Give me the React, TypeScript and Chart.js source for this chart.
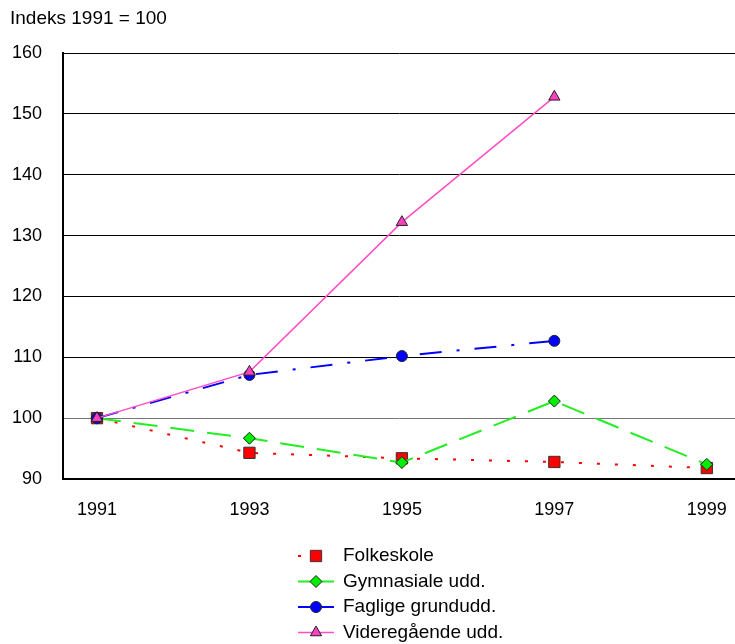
import React, { useEffect, useRef } from "react";
import { Chart, registerables } from "chart.js";
import { drawPoint } from "chart.js/helpers";

Chart.register(...registerables);

const years = [1991, 1993, 1995, 1997, 1999];
const seriesNames = ["Folkeskole", "Gymnasiale udd.", "Faglige grundudd.", "Videregående udd."];
const folkeskole = [100, 94.3, 93.4, 92.8, 91.8];
const gymnasiale = [100, 96.7, 92.7, 102.8, 92.4];
const faglige = [100, 107.1, 110.2, 112.7, null];
const videregaende = [100, 107.6, 132.2, 152.8, null];
const yTicks = [90, 100, 110, 120, 130, 140, 150, 160];
const titleText = "Indeks 1991 = 100";

const FONT = "'Liberation Sans', Arial, sans-serif";

const toPoints = (vals: (number | null)[]) => years.map((x, i) => ({ x, y: vals[i] }));

const titlePlugin = {
  id: "customTitle",
  afterDraw(chart: any) {
    const ctx = chart.ctx;
    ctx.save();
    ctx.fillStyle = "#000";
    ctx.font = `19px ${FONT}`;
    ctx.textAlign = "left";
    ctx.textBaseline = "middle";
    ctx.fillText(titleText, 10, 19);
    ctx.restore();
  },
};

const legendPlugin = {
  id: "customLegend",
  afterDraw(chart: any) {
    const ctx = chart.ctx;
    const ds = chart.data.datasets;
    ctx.save();
    ds.forEach((d: any, i: number) => {
      const y = 556 + i * 25.5;
      ctx.save();
      ctx.strokeStyle = d.borderColor;
      ctx.lineWidth = d.borderWidth;
      ctx.setLineDash(d.legendDash || d.borderDash || []);
      ctx.beginPath();
      ctx.moveTo(298, y);
      ctx.lineTo(334, y);
      ctx.stroke();
      ctx.restore();
      ctx.save();
      ctx.fillStyle = d.pointBackgroundColor;
      ctx.strokeStyle = d.pointBorderColor;
      ctx.lineWidth = d.pointBorderWidth;
      drawPoint(ctx, { pointStyle: d.pointStyle, radius: d.pointRadius, rotation: 0, borderWidth: d.pointBorderWidth }, 316, y);
      ctx.restore();
      ctx.fillStyle = "#000";
      ctx.font = `19px ${FONT}`;
      ctx.textAlign = "left";
      ctx.textBaseline = "middle";
      ctx.fillText(d.label, 343, y);
    });
    ctx.restore();
  },
};

export default function App() {
  const ref = useRef<HTMLCanvasElement>(null);
  useEffect(() => {
    if (!ref.current) return;
    const chart = new Chart(ref.current, {
      type: "line",
      data: {
        datasets: [
          {
            label: seriesNames[0],
            data: toPoints(folkeskole),
            borderColor: "#ff0000",
            borderWidth: 2,
            borderDash: [3, 15],
            pointStyle: "rect",
            pointRadius: 8,
            pointBackgroundColor: "#ff0000",
            pointBorderColor: "#333333",
            pointBorderWidth: 1,
            order: 3,
          },
          {
            label: seriesNames[1],
            data: toPoints(gymnasiale),
            borderColor: "#22ee22",
            borderWidth: 2,
            borderDash: [24, 13],
            legendDash: [],
            pointStyle: "rectRot",
            pointRadius: 6,
            pointBackgroundColor: "#00ee00",
            pointBorderColor: "#222222",
            pointBorderWidth: 1,
            order: 2,
          },
          {
            label: seriesNames[2],
            data: toPoints(faglige),
            borderColor: "#0000ff",
            borderWidth: 2,
            borderDash: [22, 15, 3, 15],
            legendDash: [],
            pointStyle: "circle",
            pointRadius: 5.5,
            pointBackgroundColor: "#0000ff",
            pointBorderColor: "#222222",
            pointBorderWidth: 1,
            order: 1,
          },
          {
            label: seriesNames[3],
            data: toPoints(videregaende),
            borderColor: "#ff4dc4",
            borderWidth: 1.5,
            borderDash: [],
            pointStyle: "triangle",
            pointRadius: 6.5,
            pointBackgroundColor: "#ff40c0",
            pointBorderColor: "#222222",
            pointBorderWidth: 1,
            order: 0,
          },
        ] as any,
      },
      options: {
        animation: false,
        responsive: false,
        maintainAspectRatio: false,
        layout: { padding: { left: 12, right: 0, top: 53, bottom: 123 } },
        plugins: { legend: { display: false }, tooltip: { enabled: false }, title: { display: false } },
        scales: {
          x: {
            type: "linear",
            min: 1990.554,
            max: 1999.37,
            afterBuildTicks: (axis: any) => {
              axis.ticks = years.map((v) => ({ value: v }));
            },
            afterFit: (s: any) => {
              s.height = 42;
              s.paddingLeft = 0;
              s.paddingRight = 0;
            },
            grid: { display: true, drawOnChartArea: false, drawTicks: false, color: "rgba(0,0,0,0)" },
            border: { display: true, color: "#000", width: 2 },
            ticks: {
              padding: 20,
              color: "#000",
              font: { family: FONT, size: 18 },
              callback: (v: any) => String(v),
              maxRotation: 0,
            },
          },
          y: {
            min: 90,
            max: 160,
            afterBuildTicks: (axis: any) => {
              axis.ticks = yTicks.map((v) => ({ value: v }));
            },
            afterFit: (s: any) => {
              s.width = 51;
            },
            grid: {
              drawTicks: false,
              color: (c: any) => (c.tick && c.tick.value === 100 ? "#777777" : "#000000"),
              lineWidth: 1,
            },
            border: { display: true, color: "#000", width: 2 },
            ticks: {
              padding: 21,
              color: "#000",
              font: { family: FONT, size: 18 },
            },
          },
        },
      },
      plugins: [titlePlugin, legendPlugin],
    } as any);
    return () => chart.destroy();
  }, []);
  return (
    <div style={{ position: "absolute", left: 0, top: 0, width: 735, height: 644, overflow: "hidden", background: "#fff" }}>
      <canvas ref={ref} width={744} height={644} />
    </div>
  );
}
